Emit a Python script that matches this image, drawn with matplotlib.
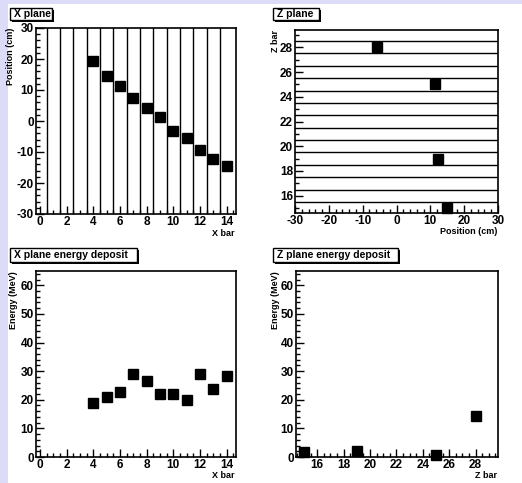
import numpy as np
import matplotlib.pyplot as plt
import matplotlib as mpl
from matplotlib.patches import Rectangle
from matplotlib.ticker import MultipleLocator

mpl.rcParams['font.family'] = ['Liberation Sans', 'DejaVu Sans']
mpl.rcParams['font.weight'] = 'bold'
mpl.rcParams['axes.unicode_minus'] = False

W, H = 522, 483

# hits in the X plane: bar number vs position
x_bar = [4, 5, 6, 7, 8, 9, 10, 11, 12, 13, 14]
x_pos = [19.5, 14.4, 11.2, 7.5, 4.1, 1.2, -3.1, -5.4, -9.4, -12.2, -14.6]
x_energy = [18.9, 21.0, 22.7, 28.9, 26.6, 21.9, 21.9, 19.8, 29.1, 23.7, 28.2]

# hits in the Z plane
z_bar = [28, 25, 19, 15]
z_pos = [-5.9, 11.5, 12.3, 14.9]
z_energy = [14.2, 0.6, 2.0, 1.6]


def px_axes(fig, left, top, right, bottom):
    return fig.add_axes([left / W, 1 - bottom / H, (right - left) / W, (bottom - top) / H])


def root_style(ax, xmaj, xmin, ymaj, ymin):
    ax.xaxis.set_major_locator(MultipleLocator(xmaj))
    ax.xaxis.set_minor_locator(MultipleLocator(xmin))
    ax.yaxis.set_major_locator(MultipleLocator(ymaj))
    ax.yaxis.set_minor_locator(MultipleLocator(ymin))
    ax.tick_params(which='both', direction='in', top=False, right=False,
                   labelsize=8.5, width=1, pad=1.5)
    ax.tick_params(which='major', length=6)
    ax.tick_params(which='minor', length=3)
    for lab in ax.get_xticklabels() + ax.get_yticklabels():
        lab.set_fontweight('bold')
    for s in ax.spines.values():
        s.set_linewidth(1.2)


def title_box(fig, text, left, top, right, bottom):
    # drop shadow first, then the white box with its label
    fig.patches.append(Rectangle((left / W + 2 / W, 1 - bottom / H - 2 / H),
                                 (right - left) / W, (bottom - top) / H,
                                 transform=fig.transFigure, facecolor='black',
                                 edgecolor='none', zorder=5))
    fig.patches.append(Rectangle((left / W, 1 - bottom / H),
                                 (right - left) / W, (bottom - top) / H,
                                 transform=fig.transFigure, facecolor='white',
                                 edgecolor='black', linewidth=1, zorder=6))
    fig.text((left + 4) / W, 1 - (top + bottom) / 2 / H, text, fontsize=7.5,
             fontweight='bold', ha='left', va='center', zorder=7)


fig = plt.figure(figsize=(W / 100, H / 100), dpi=100)
fig.patch.set_facecolor('white')
fig.patches.append(Rectangle((0, 0), 8 / W, 1, transform=fig.transFigure,
                             facecolor='#dcdcf8', edgecolor='none', zorder=0))
fig.patches.append(Rectangle((0, 1 - 4 / H), 1, 4 / H, transform=fig.transFigure,
                             facecolor='#dcdcf8', edgecolor='none', zorder=0))

# X plane
ax1 = px_axes(fig, 36, 28, 236, 214)
for xv in np.arange(0.5, 14, 1.0):
    ax1.axvline(xv, color='black', linewidth=1)
ax1.plot(x_bar, x_pos, 's', color='black', markersize=7.5, clip_on=False, zorder=5)
ax1.set_xlim(-0.3, 14.7)
ax1.set_ylim(-30, 30)
root_style(ax1, 2, 0.5, 10, 2)
fig.text(11 / W, 1 - 28 / H, 'Position (cm)', rotation=90, fontsize=6.5,
         fontweight='bold', ha='center', va='top')
fig.text(234 / W, 1 - 233 / H, 'X bar', fontsize=6.5, fontweight='bold',
         ha='right', va='center')
title_box(fig, 'X plane', 10, 8, 52, 20)

# Z plane
ax2 = px_axes(fig, 295, 30, 498, 213)
for yv in np.arange(15.5, 29, 1.0):
    ax2.axhline(yv, color='black', linewidth=1)
ax2.plot(z_pos, z_bar, 's', color='black', markersize=7.5, clip_on=False, zorder=5)
ax2.set_xlim(-30, 30)
ax2.set_ylim(14.6, 29.4)
root_style(ax2, 10, 2, 2, 1)
fig.text(276 / W, 1 - 30 / H, 'Z bar', rotation=90, fontsize=6.5,
         fontweight='bold', ha='center', va='top')
fig.text(497 / W, 1 - 232 / H, 'Position (cm)', fontsize=6.5, fontweight='bold',
         ha='right', va='center')
title_box(fig, 'Z plane', 273, 8, 319, 20)

# X plane energy deposit
ax3 = px_axes(fig, 36, 271, 236, 457)
ax3.plot(x_bar, x_energy, 's', color='black', markersize=7.5, clip_on=False, zorder=5)
ax3.set_xlim(-0.3, 14.7)
ax3.set_ylim(0, 65)
root_style(ax3, 2, 0.5, 10, 2)
fig.text(14 / W, 1 - 271 / H, 'Energy (MeV)', rotation=90, fontsize=6.5,
         fontweight='bold', ha='center', va='top')
fig.text(234 / W, 1 - 476 / H, 'X bar', fontsize=6.5, fontweight='bold',
         ha='right', va='center')
title_box(fig, 'X plane energy deposit', 10, 248, 137, 262)

# Z plane energy deposit
ax4 = px_axes(fig, 296, 271, 498, 457)
ax4.plot(z_bar, z_energy, 's', color='black', markersize=7.5, clip_on=False, zorder=5)
ax4.set_xlim(14.4, 29.7)
ax4.set_ylim(0, 65)
root_style(ax4, 2, 0.5, 10, 2)
fig.text(276 / W, 1 - 271 / H, 'Energy (MeV)', rotation=90, fontsize=6.5,
         fontweight='bold', ha='center', va='top')
fig.text(497 / W, 1 - 476 / H, 'Z bar', fontsize=6.5, fontweight='bold',
         ha='right', va='center')
title_box(fig, 'Z plane energy deposit', 273, 248, 398, 262)

fig.savefig('out.png', dpi=100)
